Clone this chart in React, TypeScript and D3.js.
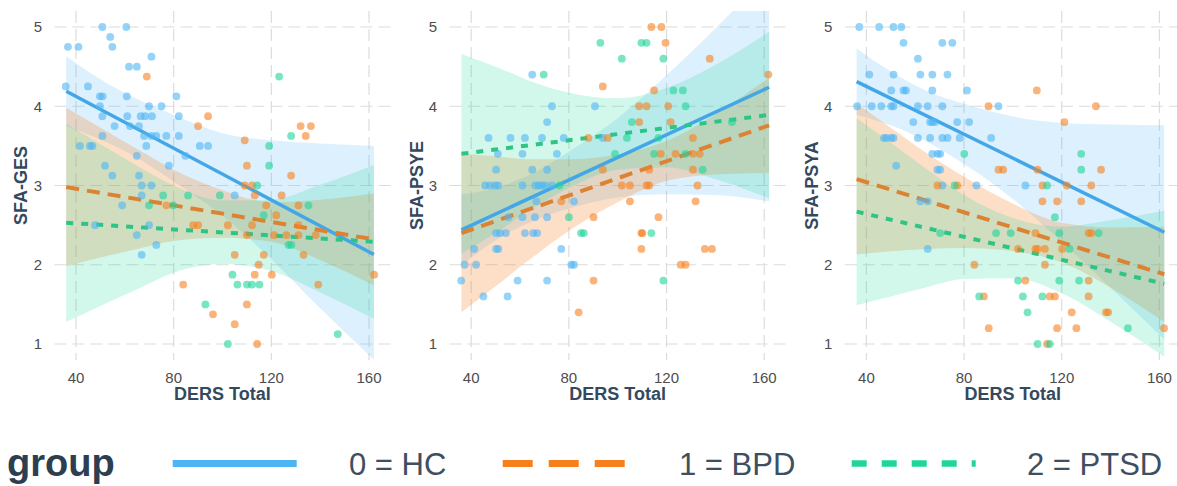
import React from 'react';
import * as d3 from 'd3';

type Pt = [number, number];

// group colours
const groupNames = ['0 = HC', '1 = BPD', '2 = PTSD'];
const keyColors = ['#4EB5F5', '#F7801E', '#1FD69A'];
const lineColors = ['#43A6E6', '#DC8333', '#2DC585'];
const dashes = ['none', '13,8', '7,8'];

const xTicks = [40, 80, 120, 160];
const yTicks = [1, 2, 3, 4, 5];

// SFA-GES
const gesHC: Pt[] = [
  [50.8, 5], [60.6, 5], [36.7, 4.75], [41, 4.75], [54, 4.875], [54.9, 4.75], [70.9, 4.625],
  [61.7, 4.5], [64.9, 4.5], [35.8, 4.25], [44.9, 4.25], [49.8, 4.125], [50.9, 4.125], [60.8, 4.125],
  [81.1, 4.125], [49.8, 4], [69.9, 4], [75, 4], [50.8, 3.875], [61, 3.875], [66.5, 3.875],
  [68.3, 3.875], [71.1, 3.875], [82.1, 3.875], [55.8, 3.75], [62.1, 3.75], [65.8, 3.75],
  [67.9, 3.625], [70.9, 3.625], [72.9, 3.625], [77, 3.625], [82.1, 3.625], [50.8, 3.625],
  [41.6, 3.5], [45.7, 3.5], [46.7, 3.5], [68.8, 3.5], [90.7, 3.5], [94.1, 3.5], [64.9, 3.375],
  [84.8, 3.375], [51.9, 3.25], [78, 3.25], [54.9, 3.125], [65.8, 3.125], [66.9, 3], [70.9, 3],
  [66.9, 2.875], [105, 2.875], [58.9, 2.75], [47.8, 2.5], [69.9, 2.5], [64.9, 2.375],
  [72.9, 2.25], [66.9, 2.125],
];
const gesBPD: Pt[] = [
  [69, 4.375], [94.1, 3.875], [90, 3.75], [132, 3.75], [136.2, 3.75], [134.1, 3.625], [109.1, 3.57],
  [110, 3.25], [128.1, 3.125], [109.1, 3], [112.1, 3], [113.2, 2.875], [124.2, 2.875], [77, 2.75],
  [117.9, 2.75], [131.1, 2.75], [122, 2.625], [88, 2.5], [90, 2.5], [102.2, 2.5], [112.1, 2.5],
  [131.1, 2.5], [110, 2.375], [121.1, 2.375], [126.2, 2.375], [131.1, 2.375], [138.2, 2.375],
  [105, 2.125], [116.9, 2.125], [133.2, 2.125], [114.8, 2], [113.2, 1.875], [120.2, 1.875],
  [162.1, 1.875], [83.9, 1.75], [139.2, 1.75], [110, 1.5], [96.1, 1.375], [105, 1.25], [114.2, 1],
];
const gesPTSD: Pt[] = [
  [123.2, 4.375], [128.1, 3.625], [119.1, 3.5], [119.1, 3.25], [114.2, 3], [75.7, 2.875],
  [85.9, 2.875], [98.9, 2.875], [69.9, 2.75], [79.8, 2.75], [135.2, 2.75], [116.9, 2.625],
  [127.1, 2.25], [128.2, 2.25], [104.1, 1.875], [106.1, 1.75], [110, 1.75], [112.1, 1.75],
  [115.1, 1.75], [93, 1.5], [102.2, 1], [147.2, 1.125],
];

// SFA-PSYE
const psyeHC: Pt[] = [
  [65, 4.4], [73.1, 4], [90.7, 4], [71.1, 3.8], [47.1, 3.6], [56.1, 3.6], [62, 3.6], [69, 3.6],
  [77.9, 3.6], [93.9, 3.6], [50.9, 3.4], [61, 3.4], [75.1, 3.4], [50.2, 3.2], [65, 3.2], [71.1, 3.2],
  [45.7, 3], [47.7, 3], [49.8, 3], [51.1, 3], [61, 3], [66.3, 3], [67.7, 3], [69, 3], [70.4, 3],
  [73.1, 3], [66.7, 2.8], [82.1, 2.8], [55.2, 2.6], [61, 2.6], [66.1, 2.6], [71.1, 2.6], [50.2, 2.4],
  [51.8, 2.4], [54.2, 2.4], [62, 2.4], [65.4, 2.4], [67, 2.4], [41.2, 2.2], [50.2, 2.2], [51.1, 2.2],
  [76.9, 2.2], [37.3, 2], [42, 2], [81, 2], [82.1, 2], [35.9, 1.8], [59, 1.8], [71.1, 1.8], [45, 1.6],
  [54.9, 1.6],
];
const psyeBPD: Pt[] = [
  [113.8, 5], [117.9, 5], [119.6, 4.8], [137.7, 4.6], [161.7, 4.4], [93.9, 4.25], [114.9, 4.2],
  [108.8, 4], [111.8, 4], [120.7, 4], [108.8, 3.8], [121.7, 3.8], [88, 3.6], [95.9, 3.6], [130.8, 3.6],
  [123.7, 3.4], [117.6, 3.4], [130.8, 3.4], [133.6, 3.4], [93.9, 3.2], [112.9, 3.2], [130.8, 3.2],
  [101.7, 3], [105, 3], [111.8, 3], [112.9, 3], [132.7, 3], [76.9, 2.8], [105, 2.8], [131.9, 2.8],
  [90.1, 2.6], [116.7, 2.6], [109.7, 2.4], [110.1, 2.4], [109.7, 2.2], [135.7, 2.2], [138.6, 2.2],
  [125.8, 2], [127.8, 2], [90.1, 1.8], [84, 1.4],
];
const psyePTSD: Pt[] = [
  [92.9, 4.8], [109.7, 4.8], [111.8, 4.8], [101.7, 4.6], [118.7, 4.6], [69.7, 4.4], [122.8, 4.2],
  [126.7, 4.2], [127.8, 4], [105.8, 3.8], [146.8, 3.8], [103.8, 3.6], [116.7, 3.6], [98.9, 3.4],
  [114.9, 3.4], [127.8, 3.4], [134.8, 3.2], [76.2, 3], [80, 2.6], [85, 2.4], [86.1, 2.4],
  [113.8, 2.4], [118.7, 1.8],
];

// SFA-PSYA
const psyaHC: Pt[] = [
  [37.1, 5], [45.2, 5], [51.1, 5], [54.3, 5], [55.2, 4.8], [71.1, 4.8], [75.2, 4.8], [61.1, 4.6],
  [41.2, 4.4], [51.1, 4.4], [62.1, 4.4], [67, 4.4], [73.2, 4.4], [50.2, 4.2], [55.2, 4.2], [56.2, 4.2],
  [67, 4.2], [81.2, 4.2], [36.2, 4], [42.2, 4], [46.1, 4], [50.2, 4], [51.1, 4], [61.1, 4], [65.1, 4],
  [71.1, 4], [94.1, 4], [59.2, 3.8], [66.1, 3.8], [67, 3.8], [68.1, 3.8], [77.2, 3.8], [82.1, 3.8],
  [47.2, 3.6], [48.2, 3.6], [50.2, 3.6], [51.1, 3.6], [61.1, 3.6], [66.1, 3.6], [71.1, 3.6],
  [73.2, 3.6], [78.2, 3.6], [91.1, 3.6], [67, 3.4], [69.1, 3.4], [70.2, 3.4], [52.2, 3.25],
  [69.1, 3.2], [70.2, 3.2], [71.1, 3], [85.1, 3], [105.1, 3], [62.1, 2.8], [65.1, 2.8], [65.1, 2.2],
];
const psyaBPD: Pt[] = [
  [109.8, 4.2], [90, 4], [134, 4], [121.1, 3.8], [94.1, 3.2], [96, 3.2], [110.1, 3.2], [136.1, 3.2],
  [69.1, 3], [77.2, 3], [112.1, 3], [122.1, 3], [132.1, 3], [112.1, 2.8], [118.1, 2.8], [128, 2.8],
  [131, 2.4], [132.1, 2.4], [109.2, 2.4], [102.1, 2.2], [109.2, 2.2], [110.1, 2.2], [113.1, 2.2],
  [120.2, 2.2], [84.2, 2], [113.1, 2], [105.1, 1.8], [131, 1.8], [88.1, 1.6], [115.1, 1.6],
  [117.2, 1.6], [131, 1.6], [124.1, 1.4], [138.1, 1.4], [139, 1.4], [90.1, 1.2], [118.1, 1.2],
  [126, 1.2], [161.9, 1.2], [114, 1],
];
const psyaPTSD: Pt[] = [
  [80.1, 3.4], [128, 3.4], [128, 3.2], [114, 3], [76.1, 3], [117.2, 2.6], [70.2, 2.4], [93.1, 2.4],
  [99.1, 2.4], [119, 2.4], [135.1, 2.4], [123.2, 2.2], [102.1, 1.8], [119, 1.8], [127.1, 1.8],
  [86.2, 1.6], [104.1, 1.6], [112.1, 1.6], [106, 1.4], [147.1, 1.2], [110.1, 1], [115.1, 1],
];

// fitted lines (y at x = 36 and x = 162)
const fitX = [36, 162];
const gesFitHC = [4.19, 2.13];
const gesFitBPD = [2.98, 2.32];
const gesFitPTSD = [2.53, 2.29];
const psyeFitHC = [2.44, 4.24];
const psyeFitBPD = [2.4, 3.76];
const psyeFitPTSD = [3.4, 3.89];
const psyaFitHC = [4.31, 2.41];
const psyaFitBPD = [3.08, 1.88];
const psyaFitPTSD = [2.67, 1.76];

const ribbonX = [36, 50, 65, 80, 100, 120, 140, 162];
const gesLowHC = [3.75, 3.58, 3.35, 3.05, 2.62, 2.07, 1.45, 0.8];
const gesUpHC = [4.63, 4.34, 4.09, 3.89, 3.66, 3.57, 3.53, 3.5];
const gesLowBPD = [1.98, 2.09, 2.2, 2.3, 2.34, 2.29, 2.06, 1.74];
const gesUpBPD = [3.98, 3.73, 3.46, 3.2, 2.94, 2.79, 2.82, 2.9];
const gesLowPTSD = [1.28, 1.48, 1.69, 1.9, 2.01, 1.92, 1.65, 1.32];
const gesUpPTSD = [3.78, 3.52, 3.25, 3.0, 2.81, 2.82, 3.01, 3.26];
const psyeLowHC = [1.99, 2.31, 2.55, 2.71, 2.85, 2.89, 2.88, 2.8];
const psyeUpHC = [2.89, 2.97, 3.15, 3.43, 3.85, 4.39, 4.98, 5.68];
const psyeLowBPD = [1.4, 1.73, 2.09, 2.43, 2.79, 3.06, 3.14, 3.16];
const psyeUpBPD = [3.4, 3.37, 3.33, 3.33, 3.39, 3.56, 3.9, 4.36];
const psyeLowPTSD = [2.14, 2.4, 2.71, 2.97, 3.2, 3.23, 3.08, 2.84];
const psyeUpPTSD = [4.66, 4.5, 4.31, 4.17, 4.1, 4.23, 4.52, 4.94];
const psyaLowHC = [3.89, 3.76, 3.55, 3.27, 2.83, 2.29, 1.71, 1.06];
const psyaUpHC = [4.73, 4.44, 4.19, 4.03, 3.87, 3.79, 3.77, 3.76];
const psyaLowBPD = [2.13, 2.17, 2.2, 2.21, 2.17, 2.03, 1.71, 1.28];
const psyaUpBPD = [4.03, 3.73, 3.4, 3.11, 2.77, 2.53, 2.47, 2.48];
const psyaLowPTSD = [1.49, 1.6, 1.72, 1.82, 1.83, 1.64, 1.28, 0.84];
const psyaUpPTSD = [3.85, 3.54, 3.2, 2.88, 2.59, 2.48, 2.56, 2.68];

const panels = [
  {
    title: 'SFA-GES',
    points: [gesHC, gesBPD, gesPTSD],
    fits: [gesFitHC, gesFitBPD, gesFitPTSD],
    lows: [gesLowHC, gesLowBPD, gesLowPTSD],
    ups: [gesUpHC, gesUpBPD, gesUpPTSD],
  },
  {
    title: 'SFA-PSYE',
    points: [psyeHC, psyeBPD, psyePTSD],
    fits: [psyeFitHC, psyeFitBPD, psyeFitPTSD],
    lows: [psyeLowHC, psyeLowBPD, psyeLowPTSD],
    ups: [psyeUpHC, psyeUpBPD, psyeUpPTSD],
  },
  {
    title: 'SFA-PSYA',
    points: [psyaHC, psyaBPD, psyaPTSD],
    fits: [psyaFitHC, psyaFitBPD, psyaFitPTSD],
    lows: [psyaLowHC, psyaLowBPD, psyaLowPTSD],
    ups: [psyaUpHC, psyaUpBPD, psyaUpPTSD],
  },
];

const W = 1177;
const H = 486;
const panelW = 336;
const top = 11;
const bottom = 360;
const ribbonAlpha = [0.2, 0.25, 0.2];
const font = '"Liberation Sans", Arial, sans-serif';

const Panel: React.FC<{ p: typeof panels[number]; left: number; idx: number }> = ({ p, left, idx }) => {
  const x = d3.scaleLinear().domain([40, 160]).range([left + 21.6, left + 314.6]);
  const y = d3.scaleLinear().domain([1, 5]).range([344, 27]);
  const clipId = `clip-${idx}`;

  const area = (low: number[]) =>
    d3.area<number>()
      .x((_, i) => x(ribbonX[i]))
      .y0((_, i) => y(low[i]))
      .y1(d => y(d))
      .curve(d3.curveMonotoneX);

  const line = d3.line<number>()
    .x((_, i) => x(fitX[i]))
    .y(d => y(d));

  return (
    <g>
      <defs>
        <clipPath id={clipId}>
          <rect x={left} y={top} width={panelW} height={bottom - top} />
        </clipPath>
      </defs>
      {/* grid */}
      {yTicks.map(t => (
        <line key={'h' + t} x1={left} x2={left + panelW} y1={y(t)} y2={y(t)}
          stroke="#dcdcdc" strokeWidth={1.2} strokeDasharray="12,6" />
      ))}
      {xTicks.map(t => (
        <line key={'v' + t} x1={x(t)} x2={x(t)} y1={top} y2={bottom}
          stroke="#dcdcdc" strokeWidth={1.2} strokeDasharray="12,6" />
      ))}
      {/* ribbons */}
      <g clipPath={`url(#${clipId})`}>
        {p.ups.map((up, g) => (
          <path key={'r' + g} d={area(p.lows[g])(up) ?? ''} fill={keyColors[g]} fillOpacity={ribbonAlpha[g]} />
        ))}
      </g>
      {/* fitted lines */}
      {p.fits.map((f, g) => (
        <path key={'l' + g} d={line(f) ?? ''} fill="none" stroke={lineColors[g]} strokeWidth={g === 0 ? 3.5 : 4}
          strokeDasharray={dashes[g]} />
      ))}
      {/* points */}
      {p.points.map((pts, g) => (
        <g key={'p' + g}>
          {pts.map((d, i) => (
            <circle key={i} cx={x(d[0])} cy={y(d[1])} r={3.9} fill={keyColors[g]} fillOpacity={0.6} />
          ))}
        </g>
      ))}
      {/* axes text */}
      {yTicks.map(t => (
        <text key={'yt' + t} x={left - 12.4} y={y(t) + 5.3} textAnchor="end" fontSize={15} fill="#4d4d4d">{t}</text>
      ))}
      {xTicks.map(t => (
        <text key={'xt' + t} x={x(t)} y={383} textAnchor="middle" fontSize={15} fill="#4d4d4d">{t}</text>
      ))}
      <text x={left + panelW / 2} y={400} textAnchor="middle" fontSize={18} fontWeight="bold" fill="#34495e">DERS Total</text>
      <text transform={`translate(${left - 27},${(top + bottom) / 2}) rotate(-90)`} textAnchor="middle"
        fontSize={18} fontWeight="bold" fill="#34495e">{p.title}</text>
    </g>
  );
};

const keyX = [172.7, 502.7, 851.7];
const labelX = [349, 679, 1027];

const App: React.FC = () => {
  return (
    <svg width={W} height={H} style={{ position: 'absolute', left: 0, top: 0, background: '#fff' }} fontFamily={font}>
      <rect width={W} height={H} fill="#fff" />
      {panels.map((p, i) => (
        <Panel key={p.title} p={p} left={54.4 + i * 395.2} idx={i} />
      ))}
      {/* legend */}
      <text x={7} y={476} fontSize={38} fontWeight="bold" fill="#2c3e50">group</text>
      <line x1={keyX[0]} x2={keyX[0] + 124} y1={463.5} y2={463.5} stroke={keyColors[0]} strokeWidth={7} />
      <line x1={keyX[1]} x2={keyX[1] + 123} y1={463.5} y2={463.5} stroke={keyColors[1]} strokeWidth={7} strokeDasharray="30,16" />
      <line x1={keyX[2]} x2={keyX[2] + 124} y1={463.5} y2={463.5} stroke={keyColors[2]} strokeWidth={6.5} strokeDasharray="15,15" />
      {groupNames.map((n, i) => (
        <text key={n} x={labelX[i]} y={475} fontSize={31} fill="#3d4f61">{n}</text>
      ))}
    </svg>
  );
};

export default App;
